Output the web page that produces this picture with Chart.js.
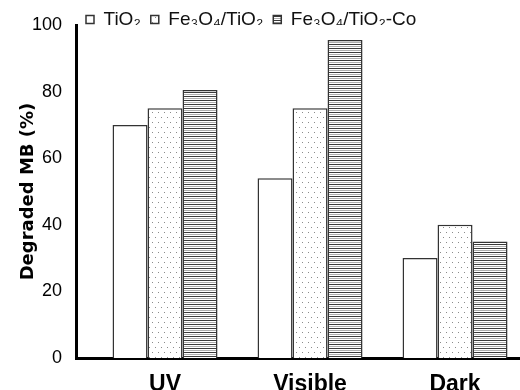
<!DOCTYPE html>
<html><head><meta charset="utf-8">
<script src="https://cdn.jsdelivr.net/npm/chart.js@4.4.1/dist/chart.umd.min.js"></script>
<style>html,body{margin:0;padding:0;background:#fff;overflow:hidden}</style>
</head><body>
<canvas id="c" width="520" height="390"></canvas>
<script>
const categories = ['UV', 'Visible', 'Dark'];
const seriesNames = ['TiO\u2082', 'Fe\u2083O\u2084/TiO\u2082', 'Fe\u2083O\u2084/TiO\u2082-Co'];
const tio2 = [70, 54, 30];
const fe3o4Tio2 = [75, 75, 40];
const fe3o4Tio2Co = [80.5, 95.5, 35];
const yTicks = [0, 20, 40, 60, 80, 100];
const yTitle = 'Degraded MB (%)';

function makeDots() {
  const c = document.createElement('canvas');
  c.width = 12; c.height = 10;
  const g = c.getContext('2d');
  g.fillStyle = '#fff'; g.fillRect(0, 0, 12, 10);
  g.fillStyle = '#8a8a8a';
  [[2,2],[8,2],[5,7],[11,7]].forEach(p => g.fillRect(p[0], p[1], 1, 1));
  return g.createPattern(c, 'repeat');
}
function makeStripes() {
  const c = document.createElement('canvas');
  c.width = 4; c.height = 4;
  const g = c.getContext('2d');
  g.fillStyle = '#fff'; g.fillRect(0, 0, 4, 4);
  g.fillStyle = '#3a3a3a'; g.fillRect(0, 0, 4, 1);
  g.fillStyle = '#adadad'; g.fillRect(0, 2, 4, 1);
  return g.createPattern(c, 'repeat');
}

const toPoints = arr => arr.map((v, i) => ({ x: i + 1, y: v }));
const fills = ['#ffffff', makeDots(), makeStripes()];
const values = [tio2, fe3o4Tio2, fe3o4Tio2Co];

const legendHeightFix = {
  id: 'legendHeightFix',
  afterInit(chart) {
    const lg = chart.legend;
    if (!lg) return;
    const f = lg.fit;
    lg.fit = function () { f.call(this); this.height = 25; };
  }
};

Chart.defaults.font.family = "Arial, 'Liberation Sans', sans-serif";
Chart.defaults.color = '#000';

new Chart(document.getElementById('c'), {
  type: 'bar',
  data: {
    datasets: seriesNames.map((name, k) => ({
      label: name,
      data: toPoints(values[k]),
      backgroundColor: fills[k],
      borderColor: '#333',
      borderWidth: 1.5
    }))
  },
  options: {
    responsive: false,
    animation: false,
    layout: { padding: 0 },
    categoryPercentage: 0.724,
    barPercentage: 1,
    plugins: {
      legend: {
        position: 'top',
        align: 'start',
        fullSize: false,
        labels: {
          boxWidth: 8, boxHeight: 8, padding: 10,
          font: { size: 19 }, color: '#111'
        }
      },
      tooltip: { enabled: false }
    },
    scales: {
      x: {
        type: 'linear',
        offset: false,
        bounds: 'data',
        min: 0.386, max: 3.448,
        grid: { display: false, offset: false },
        border: { display: true, width: 3, color: '#000' },
        afterDataLimits: s => { s.min = 0.386; s.max = 3.448; },
        afterBuildTicks: s => { s.ticks = categories.map((c, i) => ({ value: i + 1 })); },
        afterFit: s => { s.height = 32; },
        ticks: {
          autoSkip: false, maxRotation: 0, padding: 5,
          font: { size: 23, weight: 'bold' }, color: '#000',
          callback: v => categories[Math.round(v) - 1]
        }
      },
      y: {
        min: 0, max: 100,
        grid: { display: false },
        border: { display: true, width: 3, color: '#000' },
        afterBuildTicks: s => { s.ticks = yTicks.map(v => ({ value: v })); },
        afterFit: s => { s.width = 76; },
        ticks: { padding: 6, font: { size: 18 }, color: '#000' },
        title: {
          display: true, text: yTitle,
          font: { family: "'DejaVu Sans'", size: 18, weight: 'bold' },
          color: '#000', padding: { top: 18, bottom: 0 }
        }
      }
    }
  },
  plugins: [legendHeightFix]
});
</script>
</body></html>
